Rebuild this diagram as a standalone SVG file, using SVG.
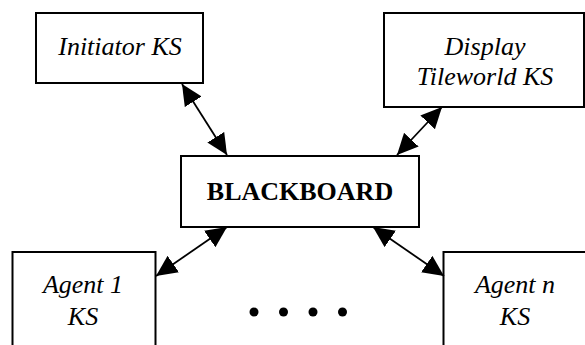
<svg xmlns="http://www.w3.org/2000/svg" width="585" height="345" viewBox="0 0 585 345">
  <style>
    .box { fill: #fff; stroke: #000; stroke-width: 2; }
    text { font-family: 'Liberation Serif', 'DejaVu Serif', serif; font-size: 26px; fill: #000; text-anchor: middle; }
    .lbl { font-style: italic; }
    .bb { font-weight: bold; }
    .link { stroke: #000; stroke-width: 1.8; fill: none; marker-start: url(#head); marker-end: url(#head); }
    .dot { fill: #000; }
  </style>
  <defs>
    <!-- filled triangular arrowhead, tip at the line end -->
    <marker id="head" markerUnits="userSpaceOnUse" markerWidth="24" markerHeight="24" refX="21" refY="10" orient="auto-start-reverse">
      <path d="M0,0 L21,10 L0,20 z" fill="#000"/>
    </marker>
  </defs>
  <rect width="585" height="345" fill="#fff"/>

  <g id="initiator">
    <rect class="box" x="36" y="13" width="167" height="70"/>
    <text class="lbl" x="120" y="55">Initiator KS</text>
  </g>

  <g id="display">
    <rect class="box" x="384" y="13" width="200" height="94"/>
    <text class="lbl" x="485" y="55">Display</text>
    <text class="lbl" x="485" y="85">Tileworld KS</text>
  </g>

  <g id="blackboard">
    <rect class="box" x="181" y="156" width="238" height="71"/>
    <text class="bb" x="300" y="200">BLACKBOARD</text>
  </g>

  <g id="agent1">
    <rect class="box" x="12.5" y="252" width="143" height="110"/>
    <text class="lbl" x="83" y="293">Agent 1</text>
    <text class="lbl" x="83" y="325">KS</text>
  </g>

  <g id="agentn">
    <rect class="box" x="443.5" y="252" width="160" height="110"/>
    <text class="lbl" x="515" y="293">Agent n</text>
    <text class="lbl" x="515" y="325">KS</text>
  </g>

  <g id="ellipsis">
    <circle class="dot" cx="254" cy="312" r="4.5"/>
    <circle class="dot" cx="283.5" cy="312" r="4.5"/>
    <circle class="dot" cx="313" cy="312" r="4.5"/>
    <circle class="dot" cx="342.5" cy="312" r="4.5"/>
  </g>

  <g id="connectors">
    <line class="link" x1="182" y1="84" x2="227" y2="155"/>
    <line class="link" x1="442" y1="107" x2="397" y2="155"/>
    <line class="link" x1="227" y1="227" x2="156" y2="276"/>
    <line class="link" x1="373" y1="227" x2="444" y2="276"/>
  </g>
</svg>
